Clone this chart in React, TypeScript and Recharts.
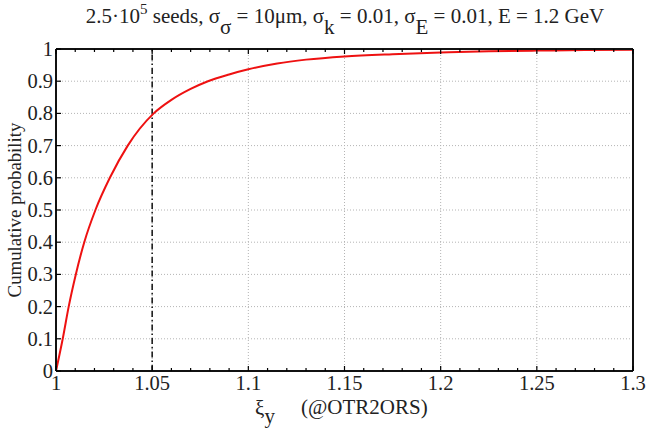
import React from "react";
import {
  LineChart,
  Line,
  XAxis,
  YAxis,
  CartesianGrid,
  ReferenceLine,
} from "recharts";

// values
const xi = [
  1, 1.0035, 1.0066, 1.0103, 1.0147, 1.0205, 1.028, 1.0373, 1.0508, 1.06,
  1.07, 1.079, 1.09, 1.1, 1.115, 1.13, 1.15, 1.175, 1.2, 1.225, 1.25, 1.275,
  1.3,
];
const prob = [
  0, 0.1, 0.2, 0.3, 0.4, 0.5, 0.6, 0.7, 0.8, 0.842, 0.876, 0.9, 0.921, 0.937,
  0.955, 0.967, 0.977, 0.984, 0.989, 0.993, 0.995, 0.997, 0.998,
];

const xMajor = [1, 1.05, 1.1, 1.15, 1.2, 1.25, 1.3];
const xAll = [
  1, 1.01, 1.02, 1.03, 1.04, 1.05, 1.06, 1.07, 1.08, 1.09, 1.1, 1.11, 1.12,
  1.13, 1.14, 1.15, 1.16, 1.17, 1.18, 1.19, 1.2, 1.21, 1.22, 1.23, 1.24, 1.25,
  1.26, 1.27, 1.28, 1.29, 1.3,
];
const yTicks = [0, 0.1, 0.2, 0.3, 0.4, 0.5, 0.6, 0.7, 0.8, 0.9, 1];
const cutX = 1.05;

const data = xi.map((x, i) => ({ x, p: prob[i] }));

const FONT = "'Liberation Serif', 'Times New Roman', serif";
const isMajor = (v: number) => xMajor.some((m) => Math.abs(m - v) < 1e-6);
const fmt = (v: number) => String(Math.round(v * 100) / 100);

const BottomTick = (props: any) => {
  const { x, y, payload } = props;
  const major = isMajor(payload.value);
  return (
    <g>
      <line x1={x} x2={x} y1={y} y2={y - (major ? 5 : 3)} stroke="#000" strokeWidth={1.2} />
      {major && (
        <text x={x} y={y + 19} textAnchor="middle" fontFamily={FONT} fontSize={20.5} fill="#222">
          {fmt(payload.value)}
        </text>
      )}
    </g>
  );
};

const TopTick = (props: any) => {
  const { x, y, payload } = props;
  const major = isMajor(payload.value);
  return <line x1={x} x2={x} y1={y} y2={y + (major ? 5 : 3)} stroke="#000" strokeWidth={1.2} />;
};

const LeftTick = (props: any) => {
  const { x, y, payload } = props;
  return (
    <g>
      <line x1={x} x2={x + 5} y1={y} y2={y} stroke="#000" strokeWidth={1.2} />
      <text x={x - 3} y={y + 7} textAnchor="end" fontFamily={FONT} fontSize={20.5} fill="#222">
        {fmt(payload.value)}
      </text>
    </g>
  );
};

const RightTick = (props: any) => {
  const { x, y } = props;
  return <line x1={x} x2={x - 5} y1={y} y2={y} stroke="#000" strokeWidth={1.2} />;
};

export default function App() {
  return (
    <div style={{ position: "absolute", left: 0, top: 0, width: 646, height: 429, background: "#fff" }}>
      <LineChart
        width={646}
        height={429}
        data={data}
        margin={{ top: 48, right: 12, bottom: 57, left: 55 }}
      >
        <XAxis xAxisId="grid" dataKey="x" type="number" domain={[1, 1.3]} ticks={xMajor} hide allowDataOverflow />
        <CartesianGrid
          xAxisId="grid"
          yAxisId="left"
          stroke="#b4b4b4"
          strokeDasharray="1 2"
          strokeWidth={1}
        />
        <XAxis
          xAxisId="bottom"
          dataKey="x"
          type="number"
          domain={[1, 1.3]}
          ticks={xAll}
          interval={0}
          height={1}
          tickSize={0}
          tickMargin={0}
          tickLine={false}
          tick={<BottomTick />}
          axisLine={{ stroke: "#111", strokeWidth: 2 }}
          allowDataOverflow
        />
        <XAxis
          xAxisId="top"
          orientation="top"
          dataKey="x"
          type="number"
          domain={[1, 1.3]}
          ticks={xAll}
          interval={0}
          height={1}
          tickSize={0}
          tickMargin={0}
          tickLine={false}
          tick={<TopTick />}
          axisLine={{ stroke: "#111", strokeWidth: 2 }}
          allowDataOverflow
        />
        <YAxis
          yAxisId="left"
          type="number"
          domain={[0, 1]}
          ticks={yTicks}
          interval={0}
          width={1}
          tickSize={0}
          tickMargin={0}
          tickLine={false}
          tick={<LeftTick />}
          axisLine={{ stroke: "#111", strokeWidth: 2 }}
        />
        <YAxis
          yAxisId="right"
          orientation="right"
          type="number"
          domain={[0, 1]}
          ticks={yTicks}
          interval={0}
          width={1}
          tickSize={0}
          tickMargin={0}
          tickLine={false}
          tick={<RightTick />}
          axisLine={{ stroke: "#111", strokeWidth: 2 }}
        />
        <ReferenceLine
          x={cutX}
          xAxisId="bottom"
          yAxisId="left"
          stroke="#111"
          strokeWidth={1.5}
          strokeDasharray="6 3 1.5 3"
        />
        <Line
          xAxisId="bottom"
          yAxisId="left"
          dataKey="p"
          type="monotone"
          stroke="#ee1111"
          strokeWidth={2}
          dot={false}
          isAnimationActive={false}
        />
      </LineChart>
      <svg
        width={646}
        height={429}
        style={{ position: "absolute", left: 0, top: 0, pointerEvents: "none" }}
        fontFamily={FONT}
        fill="#222"
      >
        <text x={345} y={23} textAnchor="middle" fontSize={21}>
          2.5·10
          <tspan dy={-9} fontSize={15}>5</tspan>
          <tspan dy={9}> seeds, σ</tspan>
          <tspan dy={11}>σ</tspan>
          <tspan dy={-11}> = 10μm, σ</tspan>
          <tspan dy={11}>k</tspan>
          <tspan dy={-11}> = 0.01, σ</tspan>
          <tspan dy={11}>E</tspan>
          <tspan dy={-11}> = 0.01, E = 1.2 GeV</tspan>
        </text>
        <text
          x={0}
          y={0}
          transform="translate(21, 210) rotate(-90)"
          textAnchor="middle"
          fontSize={18.8}
        >
          Cumulative probability
        </text>
        <text x={255} y={415} fontSize={21}>
          ξ
          <tspan dy={8}>y</tspan>
        </text>
        <text x={301} y={414} fontSize={21}>
          (@OTR2ORS)
        </text>
      </svg>
    </div>
  );
}
